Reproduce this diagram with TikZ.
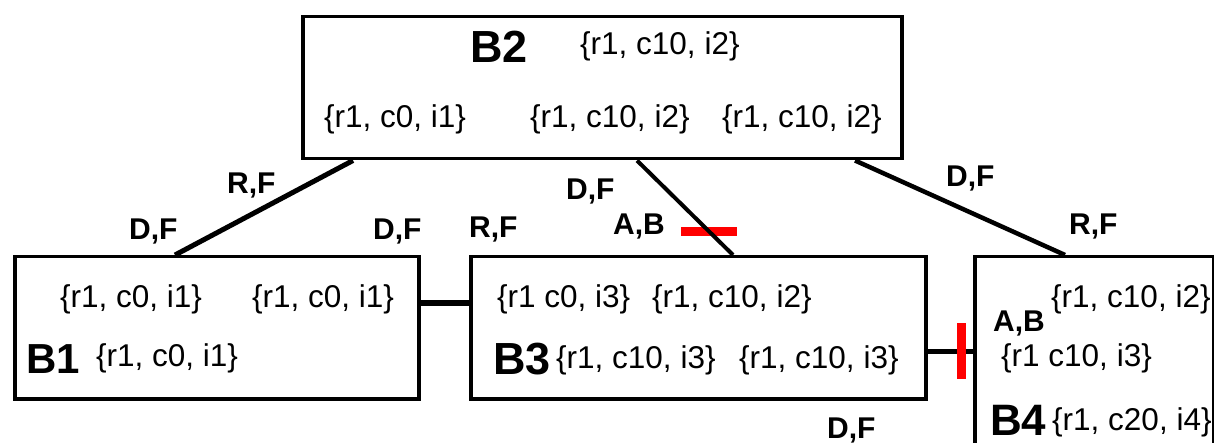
\documentclass[tikz,border=0pt]{standalone}
\usepackage{fontspec}
\setmainfont{Liberation Sans}
\begin{document}
\begin{tikzpicture}[x=1pt,y=-1pt,
  blk/.style={draw=black, line width=3.5pt, fill=white, inner sep=0pt, anchor=north west},
  setlbl/.style={anchor=base west, inner sep=0pt, font=\fontsize{31.5}{36}\selectfont},
  blkname/.style={anchor=base west, inner sep=0pt, font=\fontsize{45}{50}\selectfont\bfseries},
  edgelbl/.style={anchor=base west, inner sep=0pt, font=\fontsize{30}{34}\selectfont\bfseries},
  link/.style={draw=black, line width=5pt},
  hcut/.style={fill=red, inner sep=0pt, minimum width=56pt, minimum height=9pt},
  vcut/.style={fill=red, inner sep=0pt, minimum width=9pt, minimum height=56pt},
]
\useasboundingbox (0,0) rectangle (1214,443);
\clip (0,0) rectangle (1214,443);

% blocks
\node[blk, minimum width=599pt, minimum height=142pt] (B2) at (301,15) {};
\node[blk, minimum width=404pt, minimum height=142pt] (B1) at (13,255) {};
\node[blk, minimum width=455pt, minimum height=142pt] (B3) at (469,255) {};
\node[blk, minimum width=239pt, minimum height=230pt] (B4) at (973,255) {};

% B2 contents
\node[blkname] (n2) at (470,63) {B2};
\node[setlbl] (s2a) at (580,55) {\{r1, c10, i2\}};
\node[setlbl] (s2b) at (324,128) {\{r1, c0, i1\}};
\node[setlbl] (s2c) at (530,128) {\{r1, c10, i2\}};
\node[setlbl] (s2d) at (722,128) {\{r1, c10, i2\}};

% B1 contents
\node[setlbl] (s1a) at (60,307) {\{r1, c0, i1\}};
\node[setlbl] (s1b) at (252,307) {\{r1, c0, i1\}};
\node[blkname, font=\fontsize{42}{46}\selectfont\bfseries] (n1) at (26,373) {B1};
\node[setlbl] (s1c) at (96,366) {\{r1, c0, i1\}};

% B3 contents
\node[setlbl] (s3a) at (497,307) {\{r1 c0, i3\}};
\node[setlbl] (s3b) at (652,307) {\{r1, c10, i2\}};
\node[blkname] (n3) at (493,374) {B3};
\node[setlbl] (s3c) at (556,368) {\{r1, c10, i3\}};
\node[setlbl] (s3d) at (739,368) {\{r1, c10, i3\}};

% B4 contents
\node[setlbl] (s4a) at (1051,307) {\{r1, c10, i2\}};
\node[edgelbl] (e4ab) at (993,331) {A,B};
\node[setlbl] (s4b) at (1001,366) {\{r1 c10, i3\}};
\node[blkname, font=\fontsize{44}{48}\selectfont\bfseries] (n4) at (990,435) {B4};
\node[setlbl] (s4c) at (1052,430) {\{r1, c20, i4\}};

% links between blocks
\draw[link] ([xshift=52pt]B2.south west) -- ([xshift=162pt]B1.north west);
\path ([xshift=336pt]B2.south west) -- node[hcut, pos=0.75] (cut23) {} ([xshift=264pt]B3.north west);
\draw[link, line width=4pt] ([xshift=336pt]B2.south west) -- ([xshift=264pt]B3.north west);
\draw[link, line width=4.5pt] ([xshift=554pt]B2.south west) -- ([xshift=92pt]B4.north west);
\draw[link] ([yshift=-48pt]B1.north east) -- ([yshift=-48pt]B3.north west);
\draw[link] ([yshift=-96pt]B3.north east) -- node[vcut, pos=0.75] (cut34) {} ([yshift=-96pt]B4.north west);

% link labels
\node[edgelbl] (l21r) at (227,194) {R,F};
\node[edgelbl] (l21d) at (129,240) {D,F};
\node[edgelbl] (l13d) at (373,240) {D,F};
\node[edgelbl] (l13r) at (469,238) {R,F};
\node[edgelbl] (l23d) at (566,200) {D,F};
\node[edgelbl] (l23a) at (613,235) {A,B};
\node[edgelbl] (l24d) at (946,187) {D,F};
\node[edgelbl] (l24r) at (1069,235) {R,F};
\node[edgelbl] (l34d) at (827,438) {D,F};
\end{tikzpicture}
\end{document}
